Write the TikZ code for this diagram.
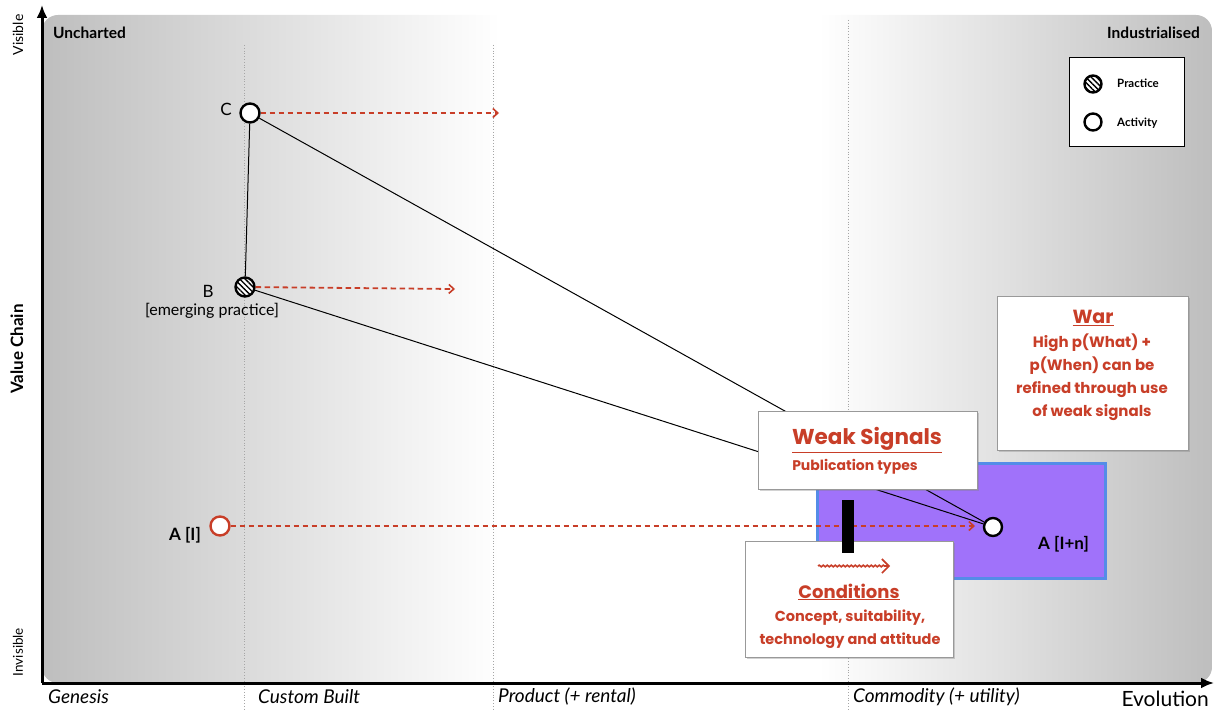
\documentclass[tikz,border=0pt]{standalone}
\usepackage{fontspec}
\setmainfont{Lato}
\newfontfamily\hand{Poppins}
\usetikzlibrary{arrows.meta,shadows,patterns.meta,decorations.pathmorphing,calc}
\definecolor{redd}{RGB}{200,62,40}
\definecolor{purp}{RGB}{160,114,250}
\definecolor{blueb}{RGB}{84,140,232}
\definecolor{bgg}{RGB}{190,190,190}
\begin{document}
\begin{tikzpicture}[x=1pt,y=-1pt,
  act/.style={circle, draw, line width=2.4pt, fill=white, minimum size=19pt, inner sep=0pt},
  prac/.style={act, preaction={fill=white}, pattern={Lines[angle=-45,distance=3.8pt,line width=1.4pt]}},
  lbl/.style={inner sep=0pt, font=\fontsize{17}{19}\selectfont},
  stage/.style={inner sep=0pt, anchor=west, font=\fontsize{19}{21}\selectfont\itshape},
  grid/.style={gray!70, dotted, line width=0.8pt},
  conn/.style={black, line width=1pt},
  redarrow/.style={redd, line width=1.8pt, dash pattern=on 5.5pt off 3.5pt, -{Straight Barb[length=5pt,width=9pt,line width=1.6pt]}},
  card/.style={draw=gray!80, fill=white, line width=0.8pt, drop shadow={shadow xshift=2pt, shadow yshift=-2pt, opacity=0.35}, inner sep=0pt},
  head/.style={inner sep=0pt, text=redd, font=\hand\bfseries\fontsize{19}{23}\selectfont},
  body/.style={inner sep=0pt, text=redd, align=center, font=\hand\bfseries\fontsize{14}{23}\selectfont},
  axis/.style={line width=3pt, -{Latex[length=13pt,width=11pt]}}
]
\useasboundingbox (0,0) rectangle (1214,711);
% background
\begin{scope}
\clip[rounded corners=16pt] (42,683) -- (42,15) -- (1212,15) -- (1212,683) -- cycle;
\shade[left color=bgg, right color=white] (42,15) rectangle (500,683);
\fill[white] (499,15) rectangle (820,683);
\shade[left color=white, right color=bgg] (819,15) rectangle (1212,683);
\end{scope}
% grid
\draw[grid] (244,45) -- (244,711);
\draw[grid] (493,45) -- (493,711);
\draw[grid] (848,20) -- (848,711);
% axes
\coordinate (O) at (42,683);
\coordinate (ytop) at (42,5);
\coordinate (xend) at (1214,683);
\draw[axis] (O) -- (ytop);
\draw[axis] (O) -- (xend);
% axis labels
\node[inner sep=0pt, rotate=90, font=\fontsize{14}{16}\selectfont] (vis) at (18,35) {Visible};
\node[inner sep=0pt, rotate=90, font=\fontsize{13.5}{15}\selectfont] (invis) at (18,652) {Invisible};
\node[inner sep=0pt, rotate=90, font=\fontsize{17}{19}\selectfont\bfseries] (vc) at (17,349) {Value Chain};
\node[inner sep=0pt, anchor=west, font=\fontsize{15.5}{17}\selectfont\bfseries] (unch) at (53,33) {Uncharted};
\node[inner sep=0pt, anchor=east, font=\fontsize{15.5}{17}\selectfont\bfseries] (ind) at (1200,33) {Industrialised};
\node[stage] (gen) at (48,697) {Genesis};
\node[stage] (cust) at (258,697) {Custom Built};
\node[stage] (prod) at (498,697) {Product (+ rental)};
\node[stage] (comm) at (853,697) {Commodity (+ utility)};
\node[inner sep=0pt, anchor=east, font=\fontsize{21}{23}\selectfont] (evo) at (1209,699) {Evolution};
% legend
\node[draw, fill=white, line width=1pt, minimum width=115pt, minimum height=89pt] (legend) at (1126.5,102.5) {};
\node[prac, minimum size=17pt] (lp) at (1093,84) {};
\node[act, minimum size=17pt] (la) at (1093,122) {};
\node[inner sep=0pt, anchor=west, font=\fontsize{11.5}{13}\selectfont\bfseries] (lpt) at (1117,83) {Practice};
\node[inner sep=0pt, anchor=west, font=\fontsize{11.5}{13}\selectfont\bfseries] (lat) at (1117,123) {Activity};
% purple zone
\node[draw=blueb, fill=purp, line width=3pt, minimum width=288pt, minimum height=115pt, inner sep=0pt] (zone) at (961,520.5) {};
% components
\node[act] (C) at (250,113) {};
\node[prac] (B) at (245,287) {};
\node[act, draw=redd] (AI) at (220,526) {};
\node[act, minimum size=18pt] (AIn) at (993,527) {};
\node[lbl] (Cl) at (226,109) {C};
\node[lbl] (Bl) at (208,291) {B};
\node[inner sep=0pt, font=\fontsize{16}{18}\selectfont] (Bl2) at (212,311) {[emerging practice]};
\node[lbl, font=\fontsize{17}{19}\selectfont\bfseries] (AIl) at (185,535) {A [I]};
\node[inner sep=0pt, anchor=west, font=\fontsize{17}{19}\selectfont\bfseries] (AInl) at (1038,544) {A [I+n]};
% connectors
\draw[conn] (C) -- (B);
\draw[conn] (C) -- (AIn);
\draw[conn] (B) -- (AIn);
\coordinate (Ce) at (499,113);
\coordinate (Be) at (455,289);
\coordinate (Ae) at (975,526);
\draw[redarrow] (C) -- (Ce);
\draw[redarrow] (B) -- (Be);
\draw[redarrow] (AI) -- (Ae);
% cards
\node[card, minimum width=219pt, minimum height=78pt] (weak) at (867.5,450) {};
\node[head, font=\hand\bfseries\fontsize{21.5}{25}\selectfont] (weakh) at (867,440) {\underline{Weak Signals}};
\node[body] (weakb) at (855,467) {Publication types};
\node[card, minimum width=191pt, minimum height=154pt] (war) at (1092.5,373) {};
\node[head] (warh) at (1093,318) {\underline{War}};
\node[body, font=\hand\bfseries\fontsize{15}{23}\selectfont] (warb) at (1092,377) {High p(What) +\\p(When) can be\\refined through use\\of weak signals};
\node[card, minimum width=208pt, minimum height=116pt] (cond) at (849,599) {};
\node[head, font=\hand\bfseries\fontsize{18}{22}\selectfont] (condh) at (849,592) {\underline{Conditions}};
\node[body, font=\hand\bfseries\fontsize{14.5}{23}\selectfont] (condb) at (850,629) {Concept, suitability,\\technology and attitude};
\coordinate (sq1) at (818,566);
\coordinate (sq2) at (890,566);
\draw[redd, line width=1.6pt, decorate, decoration={snake, amplitude=0.8pt, segment length=4pt, post length=4pt}, -{Straight Barb[length=7pt,width=14pt,line width=1.6pt]}] (sq1) -- (sq2);
% barrier
\node[fill=black, minimum width=12pt, minimum height=53pt, inner sep=0pt] (bar) at (848,526.5) {};
\end{tikzpicture}
\end{document}
